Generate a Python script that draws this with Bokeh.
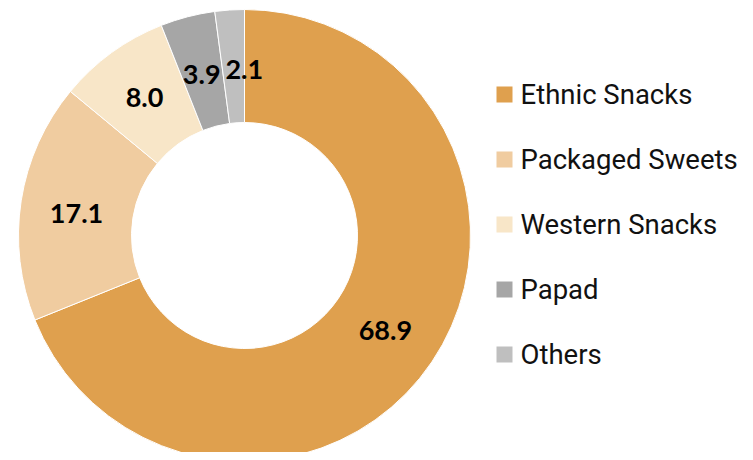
import math
from bokeh.plotting import figure
from bokeh.models import Range1d, ColumnDataSource
from bokeh.core.properties import value
from bokeh.embed import file_html
from bokeh.resources import INLINE

categories = ["Ethnic Snacks", "Packaged Sweets", "Western Snacks", "Papad", "Others"]
shares = [68.9, 17.1, 8.0, 3.9, 2.1]
colors = ["#DFA04E", "#F0CCA0", "#F8E6C8", "#A6A6A6", "#BFBFBF"]
labels = ["68.9", "17.1", "8.0", "3.9", "2.1"]

# label nudges in screen pixels (styling only; positive dy = down)
label_dx = [0, 0, 0, 0, 11]
label_dy = [0, 4, 0, 4, 4]

W, H = 745, 452
p = figure(width=W, height=H, output_backend="svg", toolbar_location=None,
           x_range=Range1d(0, W), y_range=Range1d(0, H),
           min_border=0, outline_line_color=None)
p.axis.visible = False
p.grid.visible = False
p.background_fill_color = "white"

cx, cy = 244, H - 235
r_out, r_in = 226, 113
total = sum(shares)
starts, ends, lx, ly = [], [], [], []
cum = 0.0
for i, s in enumerate(shares):
    a0 = math.pi / 2 - 2 * math.pi * cum / total
    a1 = math.pi / 2 - 2 * math.pi * (cum + s) / total
    starts.append(a0)
    ends.append(a1)
    mid = (a0 + a1) / 2
    rm = 170
    lx.append(cx + rm * math.cos(mid) + label_dx[i])
    ly.append(cy + rm * math.sin(mid) - label_dy[i])
    cum += s

src = ColumnDataSource(dict(start=starts, end=ends, color=colors, lx=lx, ly=ly, lab=labels))
p.annular_wedge(x=cx, y=cy, inner_radius=r_in, outer_radius=r_out,
                start_angle="start", end_angle="end", direction="clock",
                fill_color="color", line_color="white", line_width=1, source=src)
p.text(x="lx", y="ly", text="lab", source=src, text_align="center", text_baseline="middle",
       text_font=value("Lato"), text_font_style="bold", text_font_size="27px", text_color="#000000")

# legend
leg_y = [H - (94 + 65 * i) for i in range(len(categories))]
lsrc = ColumnDataSource(dict(y=leg_y, color=colors, name=categories))
p.rect(x=504, y="y", width=16, height=16, width_units="screen", height_units="screen",
       fill_color="color", line_color=None, source=lsrc)
p.text(x=520, y="y", text="name", source=lsrc, text_align="left", text_baseline="middle",
       text_font=value("Roboto"), text_font_size="27.5px", text_color="#111111")

open("out.html", "w").write(file_html(p, INLINE))
